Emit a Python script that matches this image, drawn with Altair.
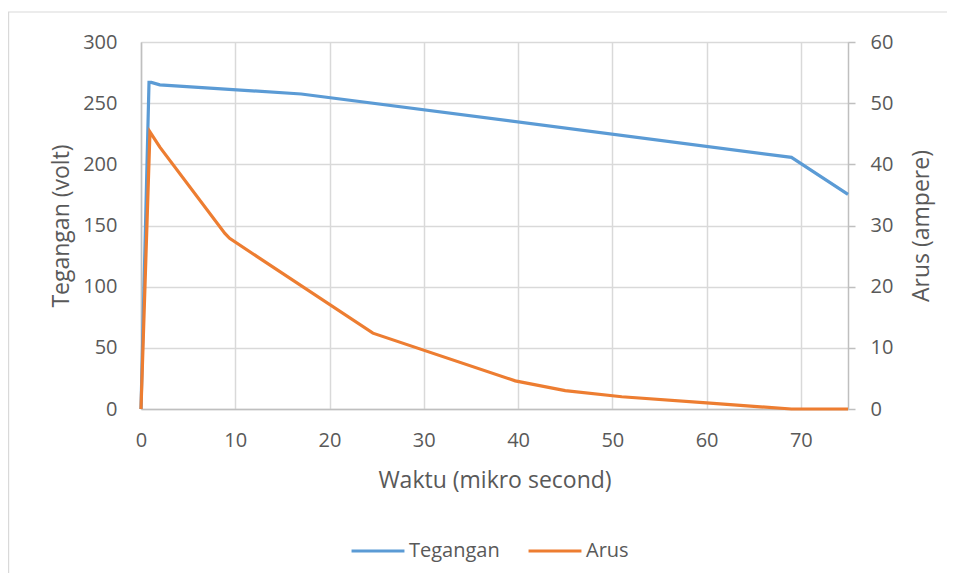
import altair as alt
import pandas as pd

# Tegangan (volt) series
time_teg = [0, 0.85, 1.1, 2, 17, 69, 75]
val_teg = [0, 267, 267, 265, 257.5, 205.7, 175.5]

# Arus (ampere) series
time_arus = [0, 0.95, 2.0, 8.9, 9.4, 24.6, 39.7, 45, 51, 60, 69, 75]
val_arus = [0, 45.3, 42.8, 28.7, 27.9, 12.4, 4.6, 3.0, 2.0, 1.0, 0, 0]

series_names = ["Tegangan", "Arus"]
series_colors = ["#5B9BD5", "#ED7D31"]

x_ticks = [0, 10, 20, 30, 40, 50, 60, 70]
y_left_ticks = [0, 50, 100, 150, 200, 250, 300]
y_right_ticks = [0, 10, 20, 30, 40, 50, 60]

df = pd.concat([
    pd.DataFrame({"t": time_teg, "v": val_teg, "s": "Tegangan", "o": range(len(time_teg))}),
    pd.DataFrame({"t": time_arus, "v": val_arus, "s": "Arus", "o": range(len(time_arus))}),
])

FONT = "Open Sans"
TXT = "#595959"
GRID = "#d9d9d9"
AXL = "#bfbfbf"
LBL = 20
TTL = 23

x_enc = alt.X(
    "t:Q",
    scale=alt.Scale(domain=[0, 75], nice=False, zero=False),
    axis=alt.Axis(
        title="Waktu (mikro second)", values=x_ticks, grid=True, gridColor=GRID, gridWidth=1.5,
        ticks=False, domainColor=AXL, domainWidth=1.5, labelPadding=21, labelFlush=False,
        labelFontSize=LBL, labelColor=TXT, labelFont=FONT,
        titleFontSize=TTL, titleFontWeight="normal", titleColor=TXT, titleFont=FONT,
        titleY=71, titleBaseline="middle",
    ),
)

color_enc = alt.Color(
    "s:N",
    scale=alt.Scale(domain=series_names, range=series_colors),
    legend=alt.Legend(
        title=None, orient="none", legendX=209, legendY=481, direction="horizontal",
        symbolType="stroke", symbolSize=2800, symbolStrokeWidth=3,
        labelFontSize=LBL, labelColor=TXT, labelFont=FONT, columnPadding=22, labelOffset=3,
    ),
)

teg = alt.Chart(df).transform_filter(alt.datum.s == "Tegangan").mark_line(strokeWidth=3.2).encode(
    x=x_enc,
    y=alt.Y(
        "v:Q",
        scale=alt.Scale(domain=[0, 300], nice=False),
        axis=alt.Axis(
            title="Tegangan (volt)", values=y_left_ticks, grid=True, gridColor=GRID, gridWidth=1.5,
            ticks=False, domainColor=AXL, domainWidth=1.5, labelPadding=24,
            labelFontSize=LBL, labelColor=TXT, labelFont=FONT,
            titleFontSize=TTL, titleFontWeight="normal", titleColor=TXT, titleFont=FONT,
            titleX=-80, titleY=183.5, titleBaseline="middle", titleAngle=270,
        ),
    ),
    color=color_enc,
    order="o:Q",
)

arus = alt.Chart(df).transform_filter(alt.datum.s == "Arus").mark_line(strokeWidth=3.2).encode(
    x=x_enc,
    y=alt.Y(
        "v:Q",
        scale=alt.Scale(domain=[0, 60], nice=False),
        axis=alt.Axis(
            title="Arus (ampere)", values=y_right_ticks, orient="right", grid=False,
            ticks=True, tickSize=7, tickColor=AXL, tickWidth=1.5, domainColor=AXL, domainWidth=1.5,
            labelPadding=15, labelFontSize=LBL, labelColor=TXT, labelFont=FONT,
            titleFontSize=TTL, titleFontWeight="normal", titleColor=TXT, titleFont=FONT,
            titleX=73, titleY=183.5, titleBaseline="middle", titleAngle=270,
        ),
    ),
    color=color_enc,
    order="o:Q",
)

frame = alt.Chart(alt.Data(values=[{}])).mark_rect(
    fill=None, stroke=GRID, strokeWidth=1.2, clip=False
).encode(
    x=alt.value(-132.4), x2=alt.value(830), y=alt.value(-30), y2=alt.value(560)
)

chart = alt.layer(frame, teg, arus).resolve_scale(y="independent").properties(
    width=707, height=367,
    autosize=alt.AutoSizeParams(type="none"),
    padding={"left": 133, "top": 34, "right": 99, "bottom": 164},
).configure_view(stroke=None).configure(background="white")

chart.save("out.html", embed_options={"renderer": "svg", "actions": False})
